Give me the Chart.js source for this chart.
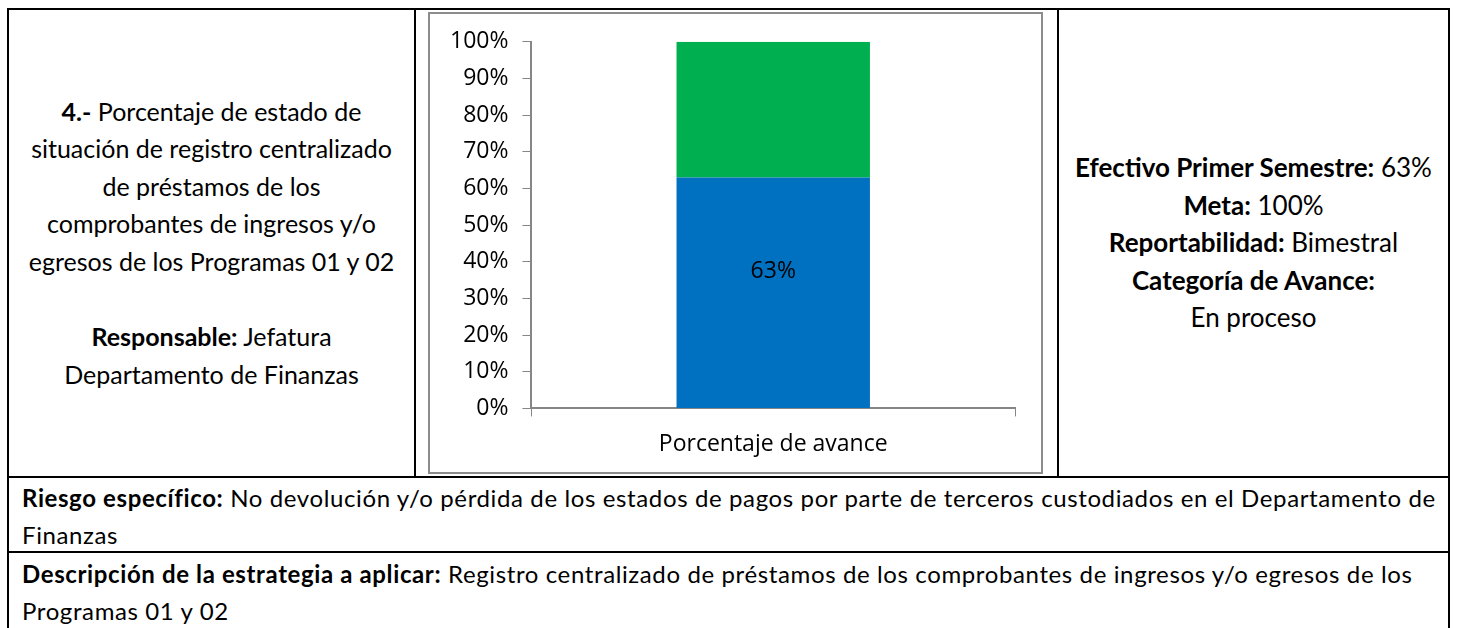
<!DOCTYPE html>
<html>
<head>
<meta charset="utf-8">
<script src="https://cdn.jsdelivr.net/npm/chart.js@4"></script>
<style>
  body { margin: 0; background: #fff; font-family: Lato, "Open Sans", sans-serif; color: #000; }
  .page { position: relative; width: 1457px; height: 628px; overflow: hidden; }
  .hl { position: absolute; height: 2px; background: #000; }
  .vl { position: absolute; width: 2px; background: #000; }
  .cell { position: absolute; display: flex; align-items: center; justify-content: center; text-align: center; font-size: 25px; line-height: 37.6px; }
  .row { position: absolute; left: 22px; font-size: 24px; line-height: 37px; white-space: nowrap; letter-spacing: 0.62px; }
  .frame { position: absolute; left: 428px; top: 12px; width: 611px; height: 458px; border: 2px solid #8c8c8c; }
  #chart-box { position: absolute; left: 430px; top: 14px; width: 611px; height: 458px; }
</style>
</head>
<body>
<div class="page">
  <div class="hl" style="left:7px; top:8px; width:1443px;"></div>
  <div class="hl" style="left:7px; top:476px; width:1443px;"></div>
  <div class="hl" style="left:7px; top:551px; width:1443px;"></div>
  <div class="vl" style="left:7px; top:8px; height:620px;"></div>
  <div class="vl" style="left:1448px; top:8px; height:620px;"></div>
  <div class="vl" style="left:414px; top:8px; height:470px;"></div>
  <div class="vl" style="left:1057px; top:8px; height:470px;"></div>

  <div class="cell" style="left:9px; top:10px; width:405px; height:466px;">
    <div><b>4.-</b> Porcentaje de estado de<br>situación de registro centralizado<br>de préstamos de los<br>comprobantes de ingresos y/o<br>egresos de los Programas 01 y 02<br><br><b>Responsable:</b> Jefatura<br>Departamento de Finanzas</div>
  </div>

  <div class="frame"></div>
  <div id="chart-box"><canvas id="chart"></canvas></div>

  <div class="cell" style="left:1059px; top:10px; width:389px; height:466px; font-size:26px;">
    <div><b>Efectivo Primer Semestre:</b> 63%<br><b>Meta:</b> 100%<br><b>Reportabilidad:</b> Bimestral<br><b>Categoría de Avance:</b><br>En proceso</div>
  </div>

  <div class="row" style="top:479px;"><b>Riesgo específico:</b> No devolución y/o pérdida de los estados de pagos por parte de terceros custodiados en el Departamento de<br>Finanzas</div>
  <div class="row" style="top:555px;"><b>Descripción de la estrategia a aplicar:</b> Registro centralizado de préstamos de los comprobantes de ingresos y/o egresos de los<br>Programas 01 y 02</div>
</div>

<script>
const categories = ['Porcentaje de avance'];
const avance = [63];
const restante = [37];
const yTicks = [0, 10, 20, 30, 40, 50, 60, 70, 80, 90, 100];

const AXIS_GRAY = '#868686';
const FONT = { family: '"Open Sans", sans-serif', size: 23 };

const barLabel = {
    id: 'barLabel',
    afterDatasetsDraw(chart) {
        const c = chart.ctx;
        const meta = chart.getDatasetMeta(0);
        c.save();
        c.font = '23px "Open Sans", sans-serif';
        c.fillStyle = '#000';
        c.textAlign = 'center';
        c.textBaseline = 'middle';
        meta.data.forEach((bar, i) => {
            const y = (bar.y + bar.base) / 2 - 21;
            c.fillText(avance[i] + '%', bar.x, y);
        });
        c.restore();
    }
};

new Chart(document.getElementById('chart'), {
    type: 'bar',
    data: {
        labels: categories,
        datasets: [
            { label: 'Avance', data: avance, backgroundColor: '#0070C0', barPercentage: 0.4, categoryPercentage: 1 },
            { label: 'Restante', data: restante, backgroundColor: '#00B050', barPercentage: 0.4, categoryPercentage: 1 }
        ]
    },
    options: {
        responsive: true,
        maintainAspectRatio: false,
        animation: false,
        layout: { padding: { top: 12, right: 26, bottom: 0, left: 6 } },
        plugins: {
            legend: { display: false },
            tooltip: { enabled: false }
        },
        scales: {
            x: {
                stacked: true,
                grid: { drawOnChartArea: false, drawTicks: true, tickLength: 8, color: AXIS_GRAY, offset: true },
                border: { color: AXIS_GRAY, width: 2 },
                ticks: { color: '#000', font: FONT, padding: 14 }
            },
            y: {
                stacked: true,
                min: 0,
                max: 100,
                afterBuildTicks(axis) { axis.ticks = yTicks.map(v => ({ value: v })); },
                grid: { drawOnChartArea: false, drawTicks: true, tickLength: 9, color: AXIS_GRAY },
                border: { color: AXIS_GRAY, width: 2 },
                ticks: { color: '#000', font: FONT, padding: 14, callback: v => v + '%' }
            }
        }
    },
    plugins: [barLabel]
});
</script>
</body>
</html>
